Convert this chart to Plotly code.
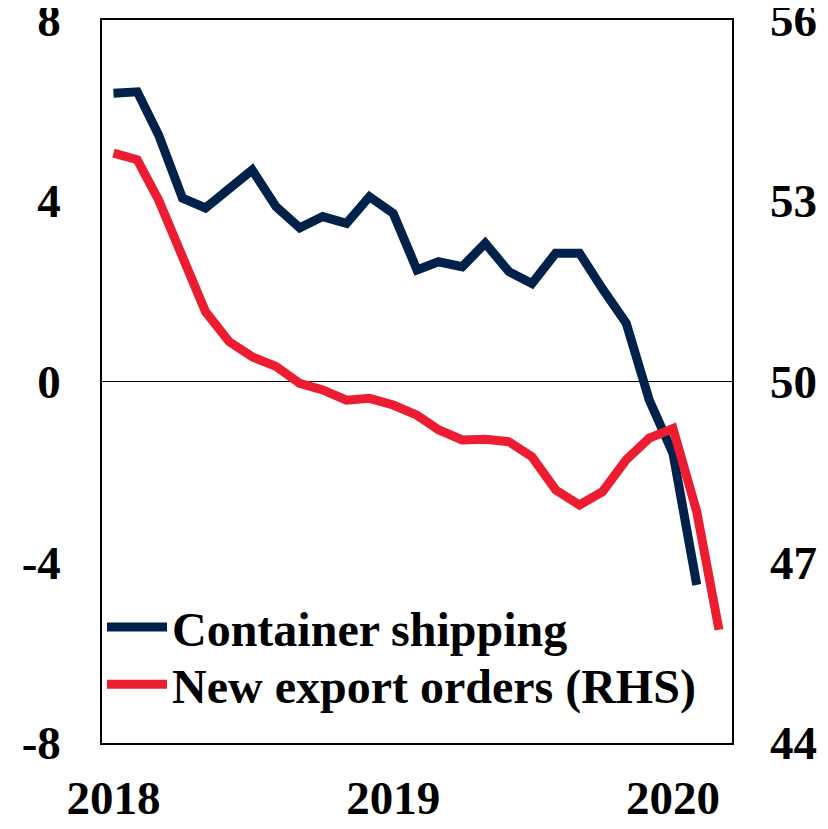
import plotly.graph_objects as go
import pandas as pd

months_container = pd.date_range("2018-01-01", periods=26, freq="MS")
months_orders = pd.date_range("2018-01-01", periods=27, freq="MS")

container_shipping = [6.38, 6.41, 5.45, 4.06, 3.84, 4.26, 4.68, 3.87, 3.40, 3.65,
                      3.50, 4.09, 3.72, 2.47, 2.65, 2.54, 3.06, 2.43, 2.17, 2.84,
                      2.84, 2.05, 1.29, -0.41, -1.59, -4.50]
new_export_orders = [53.79, 53.68, 53.01, 52.02, 51.16, 50.66, 50.41, 50.25, 49.97, 49.86,
                     49.69, 49.72, 49.61, 49.44, 49.20, 49.03, 49.04, 49.00, 48.75, 48.20,
                     47.95, 48.17, 48.70, 49.06, 49.22, 47.84, 45.88]

x_tickvals = ["2018-01-01", "2019-01-01", "2020-01-01"]
x_ticktext = ["2018", "2019", "2020"]
left_ticks = [-8, -4, 0, 4, 8]
right_ticks = [44, 47, 50, 53, 56]

NAVY = "#00214A"
RED = "#EC1D31"
FAMILY = "Liberation Serif, Times New Roman, serif"
FONT = dict(family=FAMILY, size=47, color="black")

fig = go.Figure()
fig.add_trace(go.Scatter(x=months_container, y=container_shipping, name="<b>Container shipping</b>",
                         mode="lines", line=dict(color=NAVY, width=9), yaxis="y", legend="legend"))
fig.add_trace(go.Scatter(x=months_orders, y=new_export_orders, name="<b>New export orders (RHS)</b>",
                         mode="lines", line=dict(color=RED, width=9), yaxis="y2", legend="legend2"))

legend_common = dict(xanchor="left", yanchor="middle", bgcolor="rgba(0,0,0,0)",
                     font=dict(family=FAMILY, size=48, color="black"), itemwidth=60)

fig.update_layout(
    width=828, height=829,
    margin=dict(l=94, r=104, t=12, b=94, autoexpand=False),
    paper_bgcolor="white", plot_bgcolor="white",
    font=FONT,
    showlegend=True,
    legend=dict(x=0.0, y=0.160, **legend_common),
    legend2=dict(x=0.0, y=0.081, **legend_common),
    xaxis=dict(range=["2017-12-17", "2020-03-18"], tickvals=x_tickvals,
               ticktext=[f"<b>{t}</b>" for t in x_ticktext],
               showgrid=False, zeroline=False, showline=True, mirror=True,
               linecolor="black", linewidth=1.5, ticks="", ticklabelstandoff=13,
               automargin=False, ticklabeloverflow="allow"),
    yaxis=dict(range=[-8, 8], tickvals=left_ticks, ticktext=[f"<b>{v}</b>" for v in left_ticks],
               showgrid=False, zeroline=True, zerolinecolor="black", zerolinewidth=1,
               showline=True, mirror=True, linecolor="black", linewidth=1.5, ticks="",
               ticklabelstandoff=30, automargin=False, ticklabeloverflow="allow"),
    yaxis2=dict(range=[44, 56], tickvals=right_ticks, ticktext=[f"<b>{v}</b>" for v in right_ticks],
                overlaying="y", side="right", showgrid=False, zeroline=False,
                showline=False, ticks="", ticklabelstandoff=37, automargin=False,
                ticklabeloverflow="allow"),
)

fig.write_html("out.html")
